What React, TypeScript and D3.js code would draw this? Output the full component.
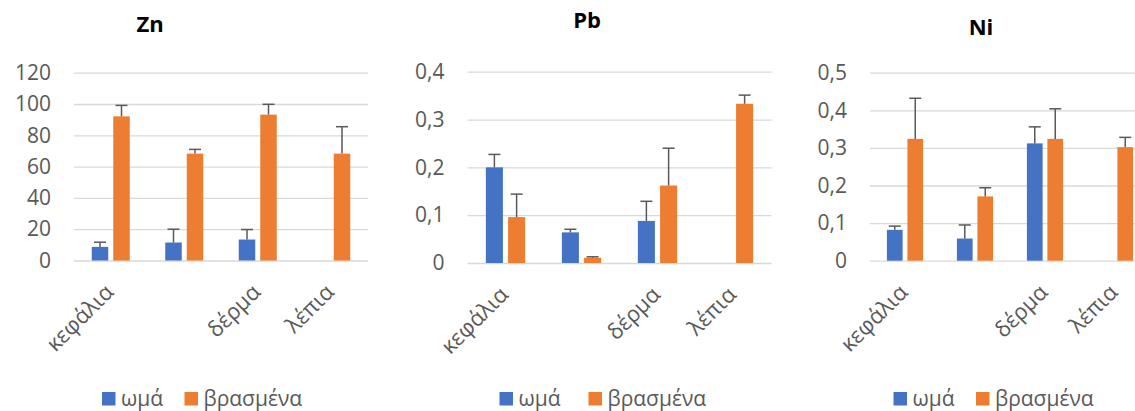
import React, { useEffect, useRef } from "react";
import * as d3 from "d3";

// Chart data
const categories = ["κεφάλια", "", "δέρμα", "λέπια"];
const seriesNames = ["ωμά", "βρασμένα"];
const seriesColors = ["#4472C4", "#ED7D31"];

const znRaw = [8.7, 11.5, 13.4, null];
const znRawErr = [3.0, 8.5, 6.4, null];
const znBoiled = [92.1, 68.3, 93.2, 68.3];
const znBoiledErr = [7.0, 2.7, 6.6, 17.2];

const pbRaw = [0.2, 0.064, 0.088, null];
const pbRawErr = [0.027, 0.0065, 0.041, null];
const pbBoiled = [0.096, 0.011, 0.162, 0.333];
const pbBoiledErr = [0.048, 0.002, 0.078, 0.018];

const niRaw = [0.082, 0.059, 0.312, null];
const niRawErr = [0.01, 0.036, 0.044, null];
const niBoiled = [0.324, 0.171, 0.324, 0.302];
const niBoiledErr = [0.108, 0.023, 0.08, 0.026];

const znTicks = [0, 20, 40, 60, 80, 100, 120];
const pbTicks = [0, 0.1, 0.2, 0.3, 0.4];
const niTicks = [0, 0.1, 0.2, 0.3, 0.4, 0.5];

const font = "'Open Sans', 'Noto Sans', sans-serif";
const textColor = "#595959";

// layout of the three panels (positions only)
const panels = [
  {
    title: "Zn", titleX: 150, titleY: 32,
    x0: 74, x1: 368, yBottom: 260.5, yTop: 72.7,
    ticks: znTicks, fmt: (v) => String(v),
    values: [znRaw, znBoiled], errors: [znRawErr, znBoiledErr],
    legendX: 102, legendStep: 82.5,
  },
  {
    title: "Pb", titleX: 587, titleY: 28,
    x0: 467.5, x1: 771.5, yBottom: 263, yTop: 71.7,
    ticks: pbTicks, fmt: (v) => String(+v.toFixed(1)).replace(".", ","),
    values: [pbRaw, pbBoiled], errors: [pbRawErr, pbBoiledErr],
    legendX: 499.5, legendStep: 89,
  },
  {
    title: "Ni", titleX: 981, titleY: 35,
    x0: 870, x1: 1150, yBottom: 260.7, yTop: 72.7,
    ticks: niTicks, fmt: (v) => String(+v.toFixed(1)).replace(".", ","),
    values: [niRaw, niBoiled], errors: [niRawErr, niBoiledErr],
    legendX: 893.5, legendStep: 82.5,
  },
];

function App() {
  const chartElement = useRef(null);

  useEffect(() => {
    const svg = d3.select(chartElement.current).html("");

    panels.forEach((p) => {
      const g = svg.append("g");
      const domainMax = p.ticks[p.ticks.length - 1];

      const xScale = d3.scaleBand()
        .domain(categories.map((c, i) => String(i)))
        .range([p.x0, p.x1])
        .paddingInner(0.483)
        .paddingOuter(0.2415);

      const xInner = d3.scaleBand()
        .domain(seriesNames)
        .range([0, xScale.bandwidth()])
        .paddingInner(0.233);

      const yScale = d3.scaleLinear()
        .domain([0, domainMax])
        .range([p.yBottom, p.yTop]);

      // gridlines + y axis labels
      const axis = g.append("g")
        .attr("transform", "translate(" + p.x0 + ",0)")
        .call(d3.axisLeft(yScale)
          .tickValues(p.ticks)
          .tickFormat(p.fmt)
          .tickSize(-(p.x1 - p.x0))
          .tickPadding(23));
      axis.select(".domain").remove();
      axis.selectAll("line").attr("stroke", "#d9d9d9").attr("stroke-width", 1.3);
      axis.selectAll("text")
        .attr("fill", textColor)
        .style("font-family", font)
        .style("font-size", "21px");

      // bars
      seriesNames.forEach((s, si) => {
        categories.forEach((c, ci) => {
          const v = p.values[si][ci];
          if (v == null) return;
          const bx = xScale(String(ci)) + xInner(s);
          const bw = xInner.bandwidth();
          g.append("rect")
            .attr("x", bx)
            .attr("y", yScale(v))
            .attr("width", bw)
            .attr("height", yScale(0) - yScale(v))
            .attr("fill", seriesColors[si]);

          const e = p.errors[si][ci];
          const cx = bx + bw / 2;
          const yTopErr = yScale(v + e);
          g.append("line")
            .attr("x1", cx).attr("x2", cx)
            .attr("y1", yScale(v)).attr("y2", yTopErr)
            .attr("stroke", "#595959").attr("stroke-width", 1.5);
          g.append("line")
            .attr("x1", cx - 6).attr("x2", cx + 6)
            .attr("y1", yTopErr).attr("y2", yTopErr)
            .attr("stroke", "#595959").attr("stroke-width", 1.5);
        });
      });

      // rotated category labels
      categories.forEach((c, ci) => {
        const cx = xScale(String(ci)) + xScale.bandwidth() / 2;
        g.append("text")
          .attr("transform", "translate(" + (cx + 4) + "," + (p.yBottom + 33) + ") rotate(-45)")
          .attr("text-anchor", "end")
          .attr("fill", textColor)
          .style("font-family", font)
          .style("font-size", "22px")
          .text(c);
      });

      // title
      g.append("text")
        .attr("x", p.titleX)
        .attr("y", p.titleY)
        .attr("text-anchor", "middle")
        .attr("fill", "#000")
        .style("font-family", font)
        .style("font-size", "22px")
        .style("font-weight", "bold")
        .text(p.title);

      // legend
      const legend = g.append("g").attr("transform", "translate(" + p.legendX + ",392)");
      seriesNames.forEach((s, si) => {
        const lx = si * p.legendStep;
        legend.append("rect")
          .attr("x", lx).attr("y", 0)
          .attr("width", 13.5).attr("height", 13.5)
          .attr("fill", seriesColors[si]);
        legend.append("text")
          .attr("x", lx + 19)
          .attr("y", 14)
          .attr("fill", textColor)
          .style("font-family", font)
          .style("font-size", "21px")
          .text(s);
      });
    });
  }, []);

  return (
    <svg
      ref={chartElement}
      width={1135}
      height={411}
      style={{ position: "absolute", left: 0, top: 0, background: "#fff" }}
    ></svg>
  );
}

export default App;
